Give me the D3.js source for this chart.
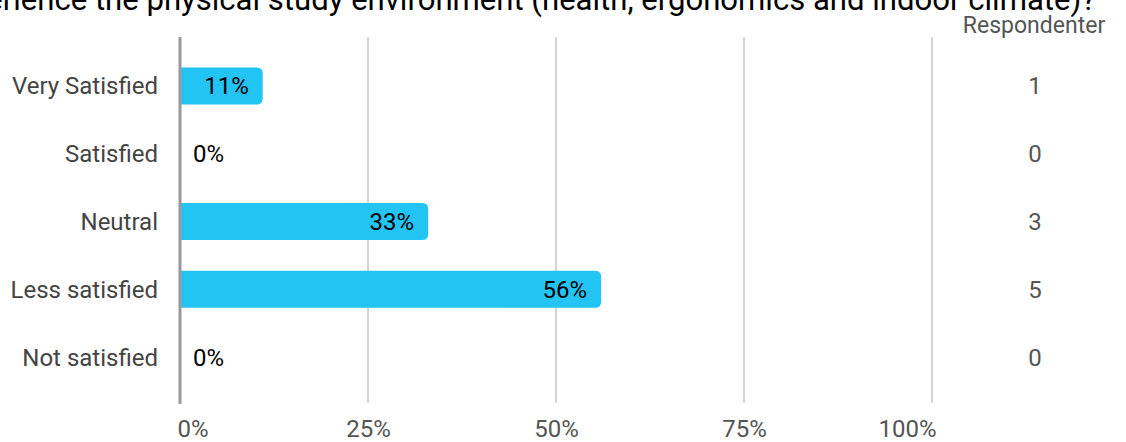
<!DOCTYPE html>
<html>
<head>
<meta charset="utf-8">
<script src="https://cdn.jsdelivr.net/npm/d3@7"></script>
<style>
  body { margin: 0; background: #fff; }
  svg { display: block; font-family: Roboto, "Noto Sans", sans-serif; }
</style>
</head>
<body>
<svg id="chart"></svg>
<script>
// ######### DATA ###########
var categories = ["Very Satisfied", "Satisfied", "Neutral", "Less satisfied", "Not satisfied"];
var percents = [11, 0, 33, 56, 0];
var respondents = [1, 0, 3, 5, 0];
var tickValues = [0, 25, 50, 75, 100];
var title = "How do you experience the physical study environment (health, ergonomics and indoor climate)?";
var columnHeader = "Respondenter";

// ######### PARAMETERS ###########
var width = 1126, height = 442;
var barColor = "#22c4f4";

var svg = d3.select("#chart").attr("width", width).attr("height", height);

var x = d3.scaleLinear().domain([0, 100]).range([180, 932]);
var y = d3.scaleBand().domain(categories).range([52, 391])
    .paddingInner(0.454).paddingOuter(0.227);

// title, cut at the left and top edges like the original
svg.append("text")
    .attr("x", 1096).attr("y", 10)
    .attr("text-anchor", "end")
    .style("font-size", "31.1px")
    .style("fill", "#000")
    .text(title);

// grid lines
svg.append("g").selectAll("line")
    .data(tickValues.slice(1))
    .join("line")
    .attr("x1", function(d) { return x(d); })
    .attr("x2", function(d) { return x(d); })
    .attr("y1", 37).attr("y2", 403)
    .attr("stroke", "#aaa").attr("stroke-width", 1);

// bars: only right corners rounded
function barPath(d, i) {
    var x0 = x(0), x1 = x(d), y0 = y(categories[i]), h = y.bandwidth();
    var r = Math.min(6, x1 - x0);
    if (x1 - x0 <= 0) return "";
    return "M" + x0 + "," + y0 +
        "H" + (x1 - r) +
        "Q" + x1 + "," + y0 + " " + x1 + "," + (y0 + r) +
        "V" + (y0 + h - r) +
        "Q" + x1 + "," + (y0 + h) + " " + (x1 - r) + "," + (y0 + h) +
        "H" + x0 + "Z";
}

svg.append("g").selectAll("path")
    .data(percents)
    .join("path")
    .attr("d", barPath)
    .attr("fill", barColor);

// zero axis
svg.append("line")
    .attr("x1", x(0)).attr("x2", x(0))
    .attr("y1", 37).attr("y2", 404)
    .attr("stroke", "#999").attr("stroke-width", 3);

// percent labels
svg.append("g").selectAll("text")
    .data(percents)
    .join("text")
    .attr("x", function(d) { return d > 0 ? x(d) - 14 : x(0) + 13; })
    .attr("y", function(d, i) { return y(categories[i]) + y.bandwidth() / 2; })
    .attr("dy", "0.35em")
    .attr("text-anchor", function(d) { return d > 0 ? "end" : "start"; })
    .style("font-size", "24px")
    .style("fill", "#000")
    .text(function(d) { return d + "%"; });

// category labels
svg.append("g").selectAll("text")
    .data(categories)
    .join("text")
    .attr("x", 158)
    .attr("y", function(d) { return y(d) + y.bandwidth() / 2; })
    .attr("dy", "0.35em")
    .attr("text-anchor", "end")
    .style("font-size", "24px")
    .style("fill", "#444")
    .text(function(d) { return d; });

// respondent column
svg.append("text")
    .attr("x", 1034).attr("y", 33)
    .attr("text-anchor", "middle")
    .style("font-size", "23px")
    .style("fill", "#555")
    .text(columnHeader);

svg.append("g").selectAll("text")
    .data(respondents)
    .join("text")
    .attr("x", 1035)
    .attr("y", function(d, i) { return y(categories[i]) + y.bandwidth() / 2; })
    .attr("dy", "0.35em")
    .attr("text-anchor", "middle")
    .style("font-size", "24px")
    .style("fill", "#555")
    .text(function(d) { return d; });

// x axis tick labels, the outer ones kept inside the plot edges
var xAxis = d3.axisBottom(x)
    .tickValues(tickValues)
    .tickSize(0)
    .tickPadding(0)
    .tickFormat(function(d) { return d + "%"; });

svg.append("g")
    .attr("transform", "translate(0,437)")
    .call(xAxis)
    .call(function(g) { g.select(".domain").remove(); })
    .call(function(g) {
        g.selectAll("text")
            .attr("y", 0)
            .attr("dy", 0)
            .attr("x", function(d) { return d === 0 ? -3 : (d === 100 ? 4 : 0); })
            .attr("text-anchor", function(d) { return d === 0 ? "start" : (d === 100 ? "end" : "middle"); })
            .style("font-size", "24px")
            .style("font-family", "Roboto, sans-serif")
            .style("fill", "#555");
    });
</script>
</body>
</html>
